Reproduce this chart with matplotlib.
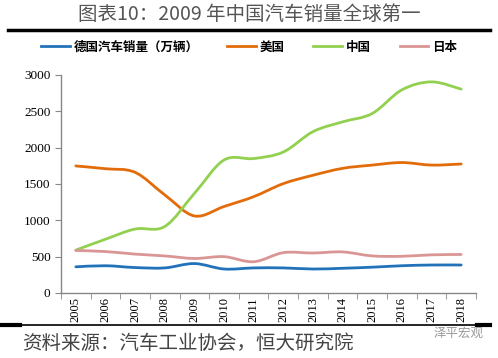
import numpy as np
import matplotlib.pyplot as plt
from matplotlib.path import Path
from matplotlib.patches import PathPatch
from matplotlib.lines import Line2D

plt.rcParams['font.family'] = ['Noto Sans CJK SC', 'DejaVu Sans']

years = [str(y) for y in range(2005, 2019)]
germany = [360, 375, 350, 345, 405, 330, 345, 345, 330, 340, 355, 375, 385, 385]
usa = [1748, 1710, 1660, 1350, 1060, 1190, 1325, 1505, 1620, 1715, 1760, 1795, 1760, 1775]
china = [590, 740, 880, 915, 1370, 1830, 1850, 1940, 2220, 2355, 2470, 2795, 2905, 2805]
japan = [585, 570, 535, 510, 475, 500, 430, 555, 550, 565, 510, 505, 525, 530]

names = ['德国汽车销量（万辆）', '美国', '中国', '日本']
colors = ['#2272B9', '#E36C0A', '#92D050', '#DA9694']


def smooth_path(x, y):
    # Catmull-Rom style bezier, similar to Excel "smoothed line"
    pts = np.column_stack([x, y]).astype(float)
    n = len(pts)
    verts = [pts[0]]
    codes = [Path.MOVETO]
    for i in range(n - 1):
        p0 = pts[max(i - 1, 0)]
        p1 = pts[i]
        p2 = pts[i + 1]
        p3 = pts[min(i + 2, n - 1)]
        c1 = p1 + (p2 - p0) / 6.0
        c2 = p2 - (p3 - p1) / 6.0
        verts += [c1, c2, p2]
        codes += [Path.CURVE4] * 3
    return Path(verts, codes)


fig = plt.figure(figsize=(4.98, 3.58), dpi=100)
ax = fig.add_axes([0.1225, 0.1816, 0.8333, 0.609])

x = np.arange(len(years))
handles = []
for vals, c, nm in zip([germany, usa, china, japan], colors, names):
    ax.add_patch(PathPatch(smooth_path(x, vals), fill=False, edgecolor=c, lw=2.0,
                           capstyle='round', joinstyle='round'))
    handles.append(Line2D([], [], color=c, lw=2.0, label=nm))

ax.set_xlim(-0.5, len(years) - 0.5)
ax.set_ylim(0, 3000)
ax.set_yticks(range(0, 3001, 500))
ax.set_xticks(x)
ax.set_xticklabels(years, rotation=90, fontfamily='Liberation Serif', fontsize=9)
ax.set_xticks(np.arange(-0.5, len(years), 1), minor=True)
ax.tick_params(axis='x', which='major', length=0, pad=3)
ax.tick_params(axis='x', which='minor', length=4, color='#888888', direction='out')
ax.tick_params(axis='y', length=4, color='#888888', labelsize=9.5)
for lab in ax.get_yticklabels():
    lab.set_fontfamily('Liberation Serif')
for s in ['top', 'right']:
    ax.spines[s].set_visible(False)
for s in ['left', 'bottom']:
    ax.spines[s].set_color('#888888')
    ax.spines[s].set_linewidth(1.0)

fig.legend(handles=handles, loc='center', bbox_to_anchor=(0.5, 0.868), ncol=4,
           frameon=False, handlelength=2.3, columnspacing=2.3,
           handletextpad=0.3, prop={'weight': 'bold', 'size': 9})

fig.text(0.5, 0.96, '图表10：2009 年中国汽车销量全球第一', ha='center', va='center',
         fontsize=14, color='#555555', fontweight='light')
fig.add_artist(Line2D([0.016, 0.984], [0.916, 0.916], color='black', lw=2.5,
                      transform=fig.transFigure))
fig.add_artist(Line2D([0.04, 0.958], [0.092, 0.092], color='black', lw=1.2,
                      transform=fig.transFigure))
fig.add_artist(Line2D([0.0, 0.04], [0.092, 0.092], color='black', lw=3,
                      transform=fig.transFigure))
fig.add_artist(Line2D([0.958, 0.984], [0.092, 0.092], color='black', lw=3,
                      transform=fig.transFigure))
fig.text(0.044, 0.04, '资料来源：汽车工业协会，恒大研究院', ha='left', va='center',
         fontsize=14, color='#444444', style='italic', fontweight='light')
fig.text(0.97, 0.068, '泽平宏观', ha='right', va='center', fontsize=9, color='#999999')

fig.savefig('out.png', dpi=100)
